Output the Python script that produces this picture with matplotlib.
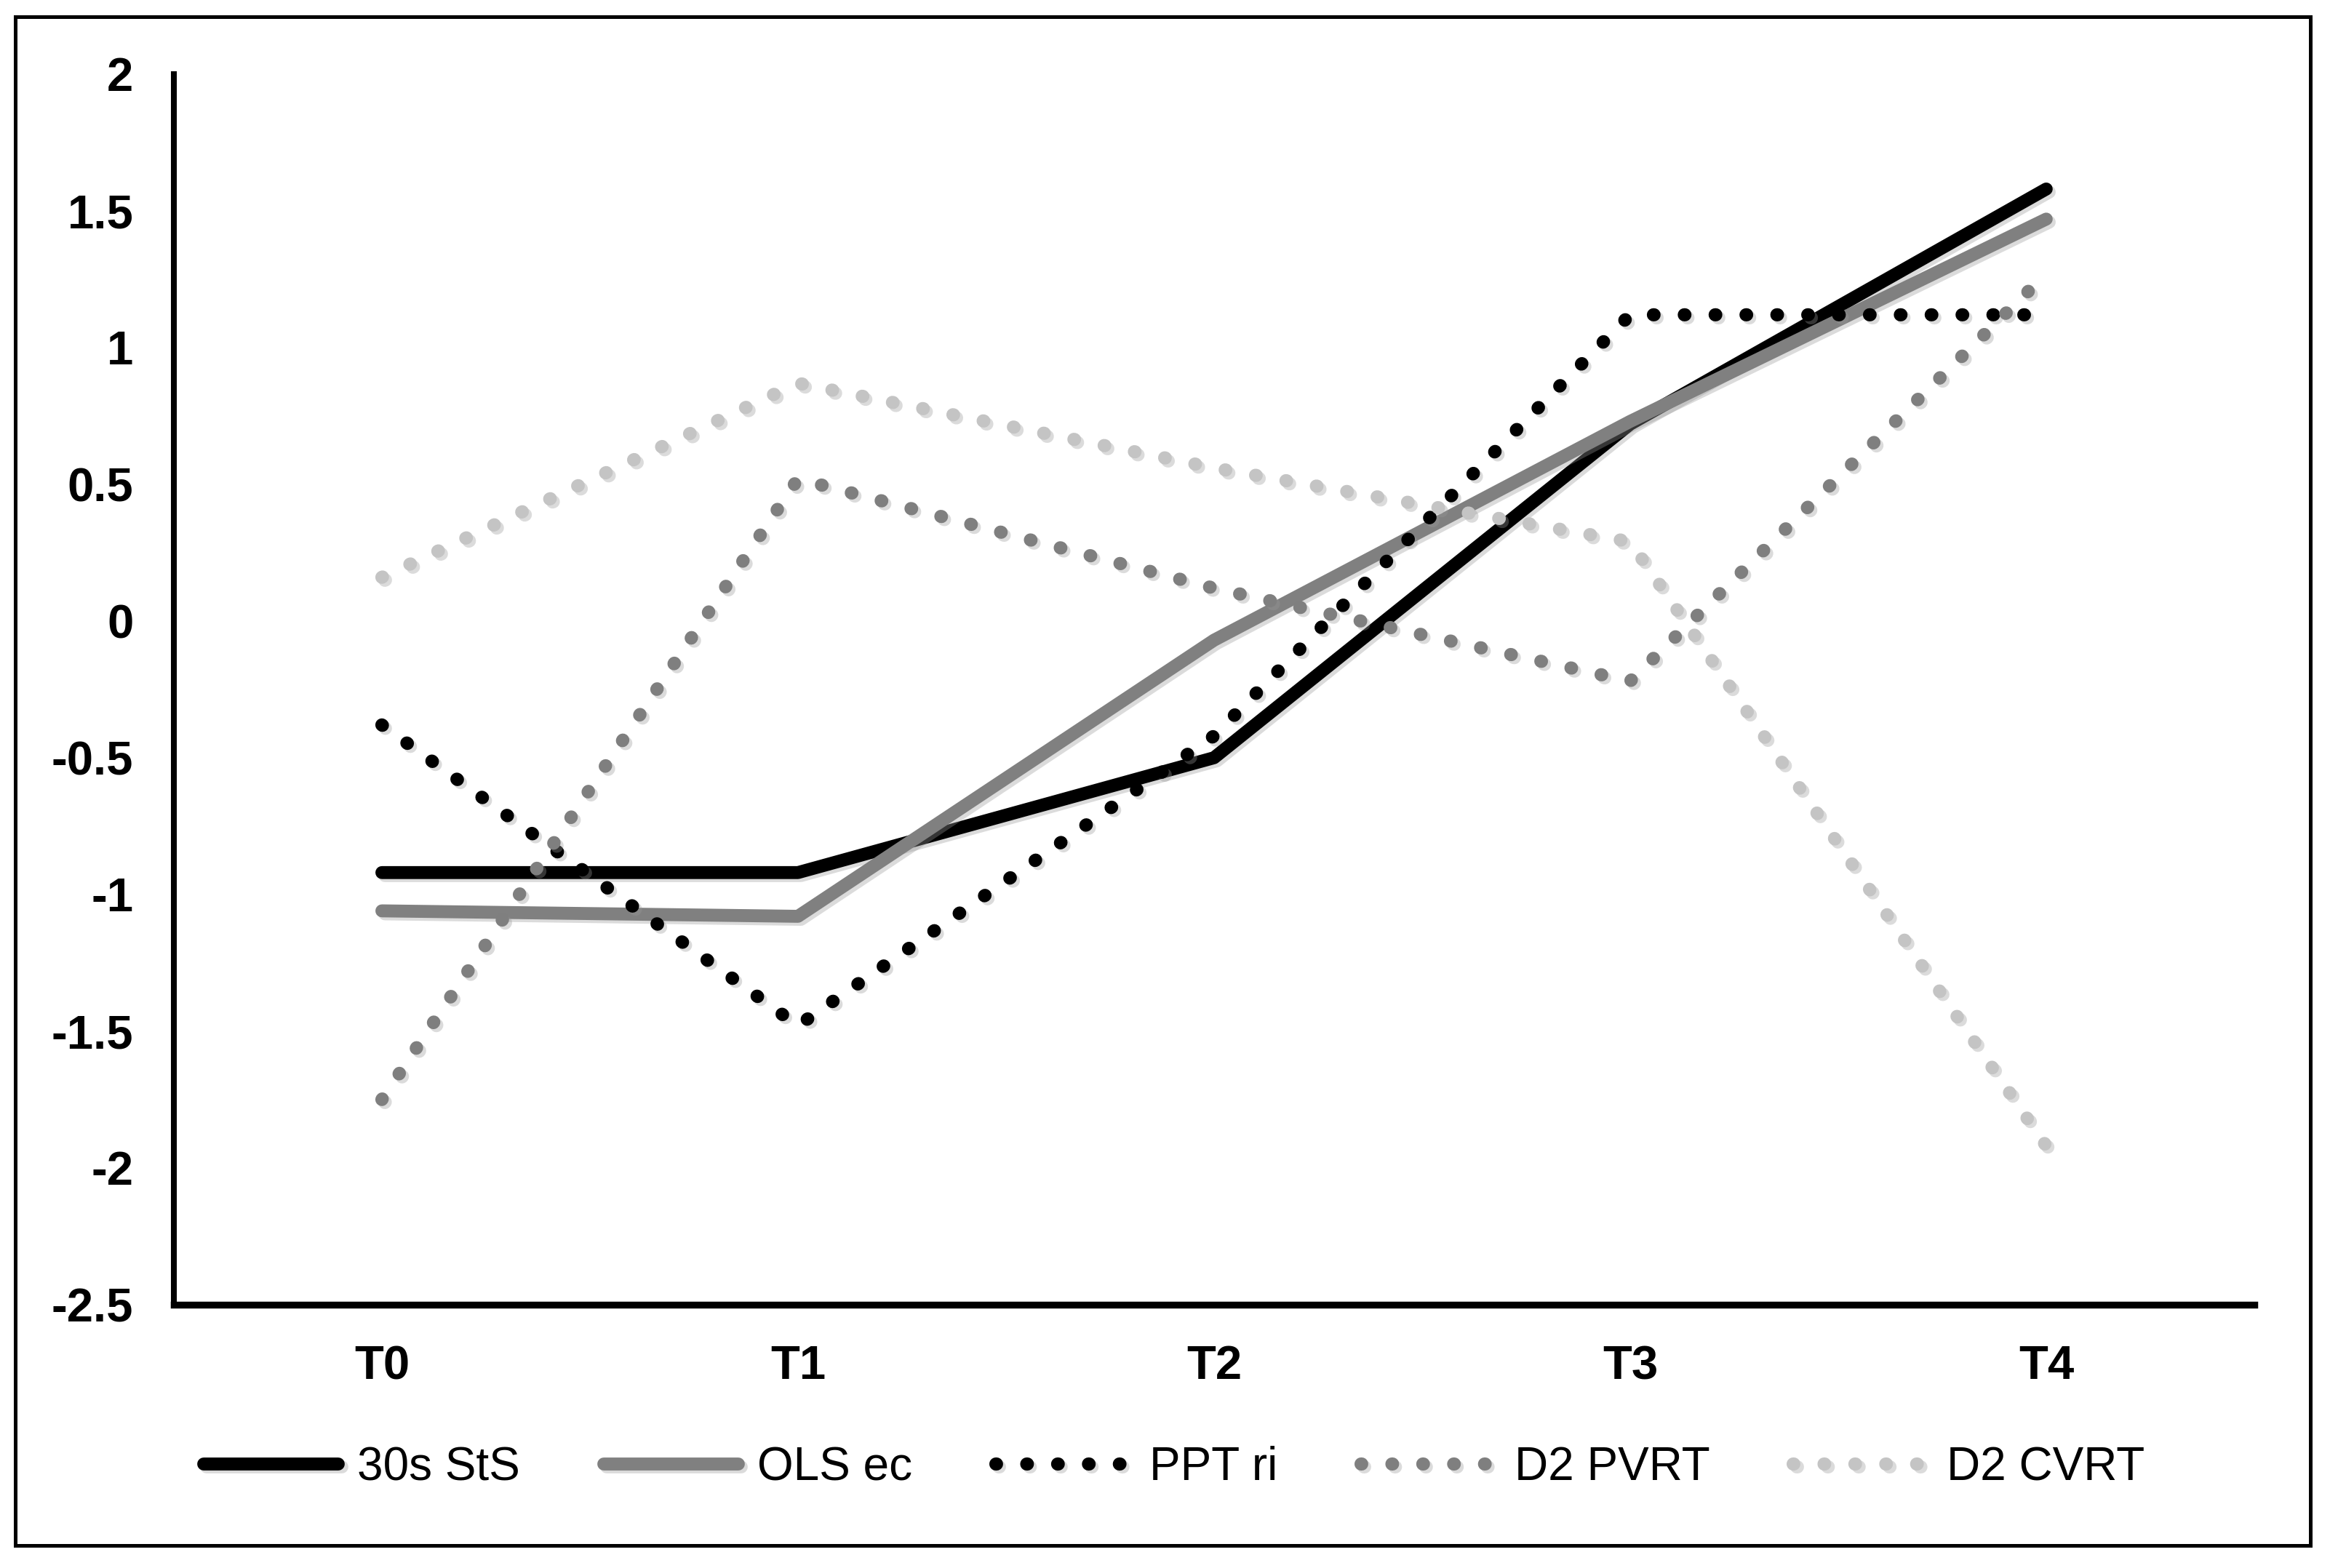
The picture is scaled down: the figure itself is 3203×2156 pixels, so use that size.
import matplotlib

matplotlib.use("Agg")
import matplotlib.pyplot as plt
import matplotlib.patheffects as pe
from matplotlib.patches import Rectangle


TIMEPOINTS = ["T0", "T1", "T2", "T3", "T4"]

STS_30S = [-0.92, -0.92, -0.50, 0.72, 1.58]
OLS_EC = [-1.06, -1.08, -0.07, 0.73, 1.47]
PPT_RI = [-0.38, -1.48, -0.42, 1.12, 1.12]
D2_PVRT = [-1.75, 0.52, 0.12, -0.22, 1.27]
D2_CVRT = [0.16, 0.87, 0.56, 0.29, -1.92]

Y_TICKS = [-2.5, -2, -1.5, -1, -0.5, 0, 0.5, 1, 1.5, 2]

plt.rcParams["font.family"] = ["Liberation Sans", "DejaVu Sans"]
plt.rcParams["axes.unicode_minus"] = False

fig = plt.figure(figsize=(16.015, 10.78), dpi=200)
ax = fig.add_axes([0.0746, 0.168, 0.8929, 0.7847])

shadow = [pe.SimpleLineShadow(offset=(1.5, -1.5), shadow_color="#999999", alpha=0.35), pe.Normal()]
x = list(range(len(TIMEPOINTS)))

series = [
    ("30s StS", STS_30S, "#000000", "solid"),
    ("OLS ec", OLS_EC, "#808080", "solid"),
    ("PPT ri", PPT_RI, "#000000", "dotted"),
    ("D2 PVRT", D2_PVRT, "#7f7f7f", "dotted"),
    ("D2 CVRT", D2_CVRT, "#c4c4c4", "dotted"),
]

# draw light lines first so the dark ones sit on top
order = [4, 3, 1, 2, 0]
handles = {}
for idx in order:
    label, values, color, style = series[idx]
    if style == "solid":
        (line,) = ax.plot(x, values, color=color, lw=6.4, solid_capstyle="round",
                          solid_joinstyle="round", label=label, zorder=3 + idx)
    else:
        (line,) = ax.plot(x, values, color=color, lw=6.5, dashes=(0.05, 2.3),
                          dash_capstyle="round", label=label, zorder=3 + idx)
    line.set_path_effects(shadow)
    handles[idx] = line

ax.set_xlim(-0.5, 4.5)
ax.set_ylim(-2.5, 2)
ax.set_yticks(Y_TICKS)
ax.set_yticklabels([f"{v:g}" for v in Y_TICKS])
ax.set_xticks(x)
ax.set_xticklabels(TIMEPOINTS)

for lab in ax.get_xticklabels() + ax.get_yticklabels():
    lab.set_fontweight("bold")
    lab.set_fontsize(23.5)
ax.tick_params(axis="both", length=0)
ax.tick_params(axis="y", pad=20)
ax.tick_params(axis="x", pad=20)

ax.spines["top"].set_visible(False)
ax.spines["right"].set_visible(False)
ax.spines["left"].set_linewidth(2.9)
ax.spines["bottom"].set_linewidth(3.4)

leg = fig.legend(
    handles=[handles[i] for i in range(5)],
    labels=[s[0] for s in series],
    loc="center",
    bbox_to_anchor=(0.504, 0.064),
    ncol=5,
    frameon=False,
    fontsize=23,
    handlelength=2.9,
    handletextpad=0.4,
    columnspacing=1.8,
)

fig.patches.append(
    Rectangle((0.0065, 0.0145), 0.985, 0.975, transform=fig.transFigure,
              fill=False, edgecolor="#000000", lw=1.8)
)

fig.savefig("out.png", dpi=200, facecolor="white")
